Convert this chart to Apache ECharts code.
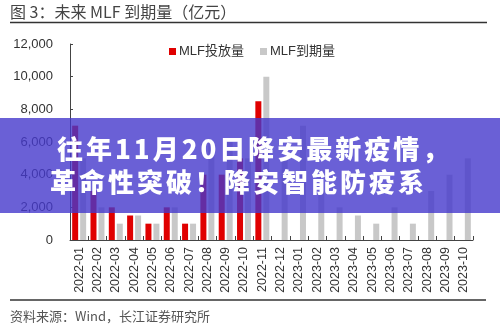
<!DOCTYPE html>
<html><head><meta charset="utf-8">
<script src="https://cdn.jsdelivr.net/npm/echarts@6/dist/echarts.min.js"></script>
<style>
html,body{margin:0;padding:0;background:#fff;}
#c{position:absolute;left:0;top:0;width:500px;height:333px;}
#banner{position:absolute;left:0;top:118px;width:500px;height:95px;background:rgba(69,56,204,0.8);color:#fff;font-family:"Noto Sans CJK SC","Noto Sans",sans-serif;font-weight:900;font-size:26px;line-height:26px;letter-spacing:3px;}
#banner div{position:absolute;white-space:nowrap;}
</style></head><body>
<div id="c"></div>
<div id="banner"><div style="left:57px;top:17px;">往年11月20日降安最新疫情，</div><div style="left:50px;top:50px;">革命性突破！降安智能防疫系</div></div>
<script>
var categories = ['2022-01','2022-02','2022-03','2022-04','2022-05','2022-06','2022-07','2022-08','2022-09','2022-10','2022-11','2022-12','2023-01','2023-02','2023-03','2023-04','2023-05','2023-06','2023-07','2023-08','2023-09','2023-10'];
var issueValues = [7000,3000,2000,1500,1000,2000,1000,4000,4000,5000,8500,null,null,null,null,null,null,null,null,null,null,null];
var maturityValues = [5000,2000,1000,1500,1000,2000,1000,6000,6000,5000,10000,5000,7000,3000,2000,1500,1000,2000,1000,3000,4000,5000];
var seriesNames = ['MLF投放量','MLF到期量'];
var titleText = '图 3：未来 MLF 到期量（亿元）';
var sourceText = '资料来源：Wind，长江证券研究所';

var chart = echarts.init(document.getElementById('c'), null, {renderer:'canvas'});
var font = '"Liberation Sans","Noto Sans CJK SC",sans-serif';
chart.setOption({
  animation:false,
  backgroundColor:'#fff',
  grid:{left:70,right:27,top:44,bottom:93,containLabel:false},
  legend:{
    data:seriesNames, left:164, top:40, icon:'rect', itemWidth:7, itemHeight:7, itemGap:16,
    textStyle:{fontSize:13,color:'#333',fontFamily:font,padding:[0,0,0,-2]}
  },
  xAxis:{
    type:'category', data:categories,
    axisLine:{lineStyle:{color:'#444',width:1}},
    axisTick:{show:true,inside:true,length:4,lineStyle:{color:'#444'}},
    axisLabel:{rotate:90,fontSize:12.5,color:'#333',margin:7,fontFamily:font,interval:0}
  },
  yAxis:{
    type:'value', min:0, max:12000, interval:2000,
    axisLine:{show:true,lineStyle:{color:'#444',width:1}},
    axisTick:{show:true,inside:true,length:3,lineStyle:{color:'#444'}},
    splitLine:{show:false},
    axisLabel:{fontSize:13,color:'#333',margin:17,fontFamily:font,
      formatter:function(v){return v.toLocaleString('en-US');}}
  },
  series:[
    {name:seriesNames[0],type:'bar',data:issueValues,barWidth:6,barGap:'33%',itemStyle:{color:'#E00000'}},
    {name:seriesNames[1],type:'bar',data:maturityValues,barWidth:6,barGap:'33%',itemStyle:{color:'#C8C8C8'}}
  ],
  graphic:[
    {type:'text',left:10,top:4,style:{text:titleText,fontSize:16,fill:'#444',fontFamily:'"Noto Sans CJK SC",sans-serif'}},
    {type:'line',shape:{x1:10,y1:22.5,x2:487,y2:22.5},style:{stroke:'#333',lineWidth:1.5}},
    {type:'line',shape:{x1:10,y1:300,x2:486,y2:300},style:{stroke:'#333',lineWidth:1.5}},
    {type:'text',left:10,top:310,style:{text:sourceText,fontSize:13,fill:'#555',fontFamily:'"Noto Sans CJK SC",sans-serif'}}
  ]
});
</script>
</body></html>
